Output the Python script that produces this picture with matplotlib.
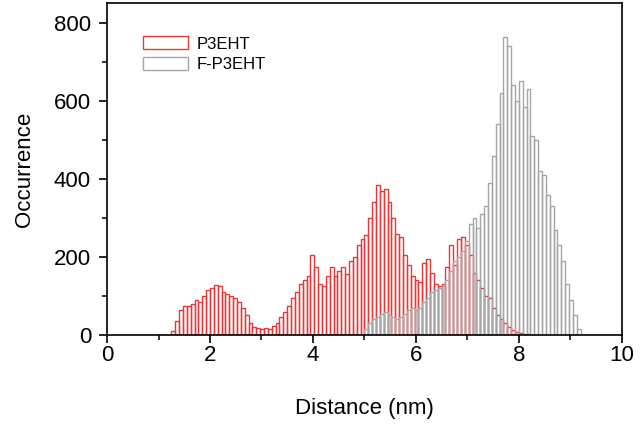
import numpy as np
import matplotlib
matplotlib.use("Agg")
import matplotlib.pyplot as plt
from matplotlib.ticker import MultipleLocator

plt.rcParams["font.family"] = ["Liberation Sans", "DejaVu Sans"]

bin_width = 0.075

# P3EHT histogram, first bin starts at 1.25 nm
p3eht_start = 1.25
p3eht_counts = [
    10, 35, 65, 75,
    75, 80, 90, 85,
    100, 115, 120, 128,
    125, 110, 105, 100,
    95, 85, 70, 50,
    30, 20, 18, 15,
    18, 15, 22, 30,
    45, 60, 75, 95,
    110, 130, 140, 150,
    205, 175, 130, 125,
    150, 175, 150, 165,
    175, 155, 190, 200,
    230, 245, 255, 300,
    340, 385, 370, 375,
    340, 300, 260, 250,
    205, 180, 150, 140,
    135, 185, 195, 160,
    130, 125, 130, 175,
    230, 180, 245, 250,
    230, 205, 160, 140,
    120, 100, 95, 70,
    50, 40, 30, 20,
    12, 8, 5, 3,
    2,
]

# F-P3EHT histogram, first bin starts at 5.0 nm
fp3eht_start = 5.0
fp3eht_counts = [
    15, 30, 40, 45,
    55, 60, 50, 45,
    40, 45, 55, 65,
    70, 65, 70, 85,
    95, 110, 115, 120,
    125, 140, 165, 190,
    200, 215, 240, 285,
    300, 275, 310, 330,
    390, 460, 540, 620,
    765, 740, 640, 600,
    650, 585, 630, 510,
    500, 420, 410, 360,
    330, 270, 230, 190,
    130, 90, 50, 15,
]

p3eht_left = p3eht_start + bin_width * np.arange(len(p3eht_counts))
fp3eht_left = fp3eht_start + bin_width * np.arange(len(fp3eht_counts))

fig = plt.figure(figsize=(6.41, 4.24), dpi=100)
ax = fig.add_axes([0.167, 0.21, 0.803, 0.783])

ax.bar(p3eht_left, p3eht_counts, width=bin_width, align="edge",
       facecolor="none", edgecolor="#e23a3a", linewidth=1.0, label="P3EHT")
ax.bar(fp3eht_left, fp3eht_counts, width=bin_width, align="edge",
       facecolor="none", edgecolor="#a6a6a6", linewidth=1.0, label="F-P3EHT")

ax.set_xlim(0, 10)
ax.set_ylim(0, 851)
ax.xaxis.set_major_locator(MultipleLocator(2))
ax.xaxis.set_minor_locator(MultipleLocator(1))
ax.yaxis.set_major_locator(MultipleLocator(200))
ax.yaxis.set_minor_locator(MultipleLocator(100))
ax.tick_params(which="major", direction="out", length=5.5, width=1.2,
               labelsize=16)
ax.tick_params(axis="x", which="major", pad=2)
ax.tick_params(axis="y", which="major", pad=6)
ax.tick_params(which="minor", direction="out", length=3.5, width=1.1)
for sp in ax.spines.values():
    sp.set_linewidth(1.2)

ax.set_xlabel("Distance (nm)", fontsize=16, labelpad=23)
ax.set_ylabel("Occurrence", fontsize=16, labelpad=14)

ax.legend(loc="upper left", bbox_to_anchor=(0.07, 0.9), frameon=False,
          fontsize=12, handlelength=2.7, handleheight=0.85,
          labelspacing=0.3, handletextpad=0.5, borderpad=0,
          borderaxespad=0)

fig.savefig("out.png", dpi=100)
